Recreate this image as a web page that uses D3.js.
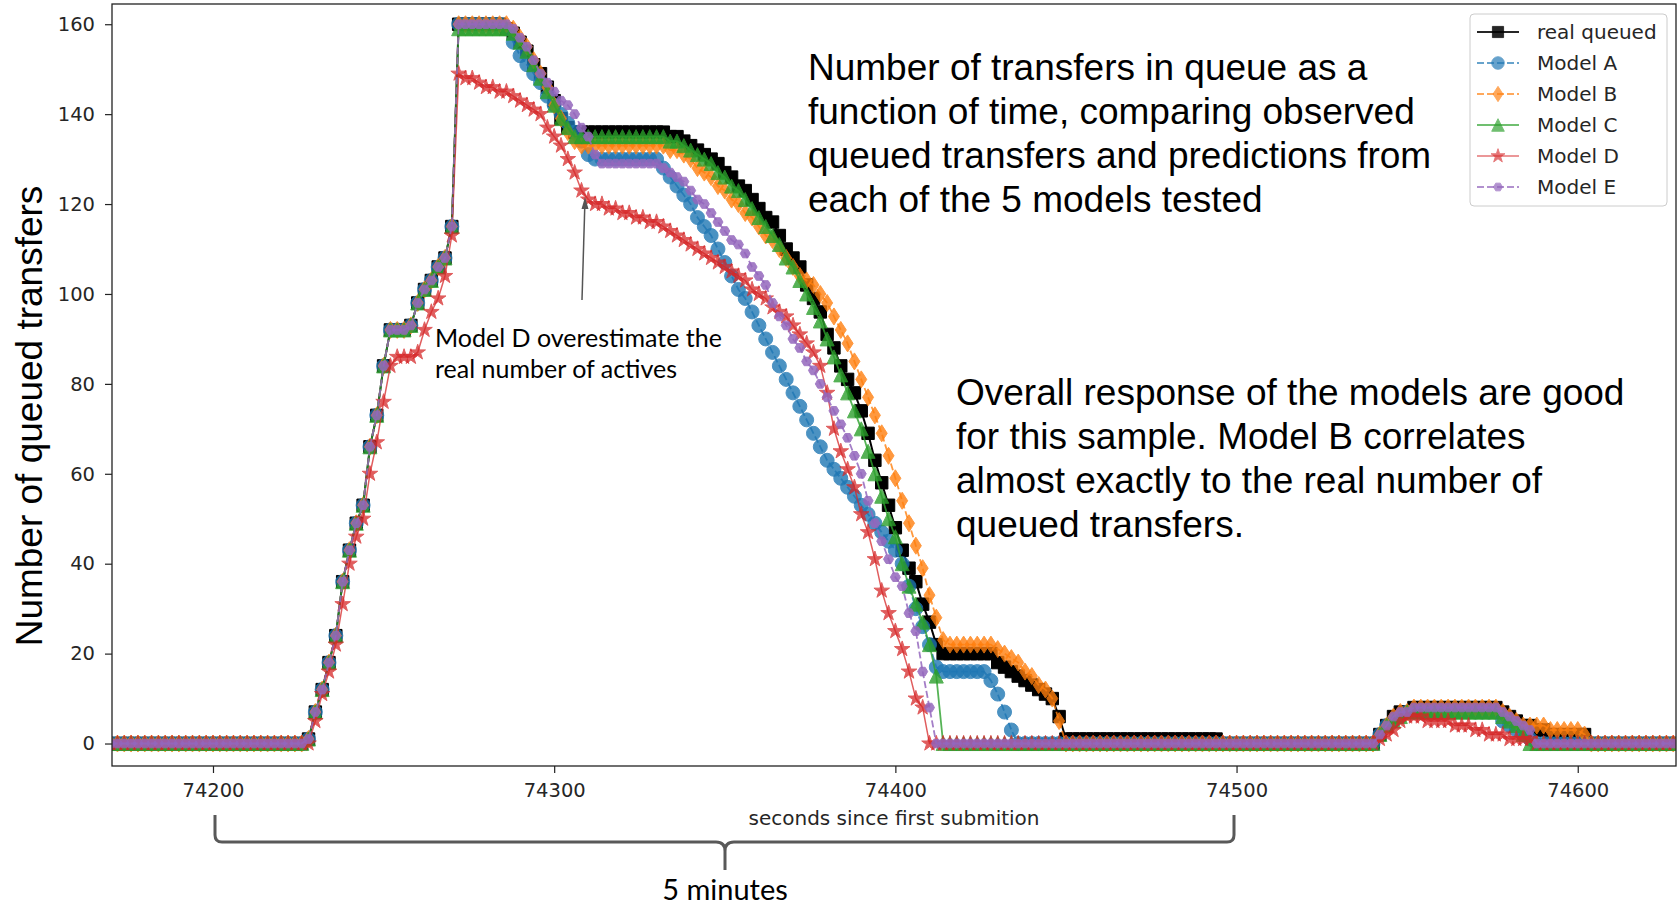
<!DOCTYPE html>
<html>
<head>
<meta charset="utf-8">
<script src="https://cdn.jsdelivr.net/npm/d3@7"></script>
<style>
body { margin: 0; background: #fff; }
svg { display: block; }
</style>
</head>
<body>
<div id="chart"></div>
<script>
var width = 1680;
var height = 905;
var plot = {left: 112, right: 1676, top: 4, bottom: 766};

// one sample every 2 seconds, 74170 .. 74628
var seconds = d3.range(74170, 74630, 2);
var xTicks = [74200, 74300, 74400, 74500, 74600];
var yTicks = [0, 20, 40, 60, 80, 100, 120, 140, 160];
var seriesNames = ["real queued", "Model A", "Model B", "Model C", "Model D", "Model E"];

var realQueued = [
	0,0,0,0,0,0,0,0,0,0,
	0,0,0,0,0,0,0,0,0,0,
	0,0,0,0,0,0,0,0,0,1,
	7,12,18,24,36,43,49,53,66,73,
	84,92,92,92,93,98,101,103,106,108,
	115,160,160,160,160,160,160,160,159,158,
	156,154,151,149,146,143,139,137,136,136,
	136,136,136,136,136,136,136,136,136,136,
	136,136,135,135,134,133,132,131,130,129,
	127,126,124,123,121,119,117,116,113,110,
	108,106,102,99,96,91,88,84,81,78,
	74,69,63,58,53,48,43,39,36,31,
	27,22,20,20,20,20,20,20,20,20,
	18,17,16,15,14,13,12,11,10,6,
	1,1,1,1,1,1,1,1,1,1,
	1,1,1,1,1,1,1,1,1,1,
	1,1,1,0,0,0,0,0,0,0,
	0,0,0,0,0,0,0,0,0,0,
	0,0,0,0,0,0,2,4,6,7,
	7,8,8,8,8,8,8,8,8,8,
	8,8,8,8,7,6,5,4,4,3,
	3,2,2,2,2,2,2,0,0,0,
	0,0,0,0,0,0,0,0,0,0];

var modelA = [
	0,0,0,0,0,0,0,0,0,0,
	0,0,0,0,0,0,0,0,0,0,
	0,0,0,0,0,0,0,0,0,1,
	7,12,18,24,36,43,49,53,66,73,
	84,92,92,92,93,98,101,103,106,108,
	115,160,160,160,160,160,160,160,159,156,
	153,151,149,147,144,142,140,138,136,134,
	131,130,130,130,130,130,130,130,130,130,
	130,128,126,124,122,120,117,115,113,110,
	107,104,101,99,96,93,90,87,84,81,
	78,75,72,69,66,63,61,59,57,55,
	53,51,49,47,45,43,40,35,30,26,
	22,17,16,16,16,16,16,16,16,14,
	11,7,3,0,0,0,0,0,0,0,
	0,0,0,0,0,0,0,0,0,0,
	0,0,0,0,0,0,0,0,0,0,
	0,0,0,0,0,0,0,0,0,0,
	0,0,0,0,0,0,0,0,0,0,
	0,0,0,0,0,0,2,4,5,6,
	7,7,7,7,7,7,7,7,7,7,
	7,7,7,7,5,4,3,2,1,0,
	0,0,0,0,0,0,0,0,0,0,
	0,0,0,0,0,0,0,0,0,0];

var modelB = [
	0,0,0,0,0,0,0,0,0,0,
	0,0,0,0,0,0,0,0,0,0,
	0,0,0,0,0,0,0,0,0,1,
	7,12,18,24,36,43,49,53,66,73,
	84,92,92,92,93,98,101,103,106,108,
	115,160,160,160,160,160,160,160,160,159,
	157,155,152,149,146,142,139,136,134,133,
	133,133,133,133,133,133,133,133,133,133,
	133,133,132,132,131,130,128,127,126,124,
	123,121,120,118,117,115,113,112,110,108,
	106,104,103,102,100,98,95,92,89,85,
	81,77,73,69,64,59,54,49,44,39,
	33,28,23,22,22,22,22,22,22,22,
	21,20,19,18,16,15,13,12,10,5,
	0,0,0,0,0,0,0,0,0,0,
	0,0,0,0,0,0,0,0,0,0,
	0,0,0,0,0,0,0,0,0,0,
	0,0,0,0,0,0,0,0,0,0,
	0,0,0,0,0,0,2,4,6,7,
	7,8,8,8,8,8,8,8,8,8,
	8,8,8,8,7,6,5,4,4,4,
	4,3,3,3,3,3,2,0,0,0,
	0,0,0,0,0,0,0,0,0,0];

var modelC = [
	0,0,0,0,0,0,0,0,0,0,
	0,0,0,0,0,0,0,0,0,0,
	0,0,0,0,0,0,0,0,0,1,
	7,12,18,24,36,43,49,53,66,73,
	84,92,92,92,93,98,101,103,106,108,
	115,159,159,159,159,159,159,159,159,158,
	156,154,151,148,145,142,139,137,135,135,
	135,135,135,135,135,135,135,135,135,135,
	135,135,134,134,133,132,131,130,129,127,
	126,124,123,121,119,117,115,113,111,108,
	106,103,100,97,94,90,86,82,78,74,
	70,65,60,55,50,46,40,35,31,27,
	22,15,0,0,0,0,0,0,0,0,
	0,0,0,0,0,0,0,0,0,0,
	0,0,0,0,0,0,0,0,0,0,
	0,0,0,0,0,0,0,0,0,0,
	0,0,0,0,0,0,0,0,0,0,
	0,0,0,0,0,0,0,0,0,0,
	0,0,0,0,0,0,2,4,5,6,
	7,7,7,7,7,7,7,7,7,7,
	7,7,7,7,6,5,4,2,0,0,
	0,0,0,0,0,0,0,0,0,0,
	0,0,0,0,0,0,0,0,0,0];

var modelD = [
	0,0,0,0,0,0,0,0,0,0,
	0,0,0,0,0,0,0,0,0,0,
	0,0,0,0,0,0,0,0,0,0,
	5,11,16,22,31,40,46,50,60,67,
	76,84,86,86,86,87,92,96,99,104,
	113,149,148,148,147,146,146,145,145,144,
	143,142,141,140,137,135,133,130,127,123,
	121,120,120,119,119,118,118,117,117,116,
	116,115,114,113,112,111,110,109,108,107,
	106,105,104,103,101,100,99,97,96,95,
	93,91,89,87,84,78,70,65,61,57,
	51,47,41,34,29,25,21,16,10,8,
	0,0,0,0,0,0,0,0,0,0,
	0,0,0,0,0,0,0,0,0,0,
	0,0,0,0,0,0,0,0,0,0,
	0,0,0,0,0,0,0,0,0,0,
	0,0,0,0,0,0,0,0,0,0,
	0,0,0,0,0,0,0,0,0,0,
	0,0,0,0,0,0,1,2,3,5,
	6,6,6,5,5,5,5,4,4,4,
	3,3,2,2,2,1,1,1,1,0,
	0,0,0,0,0,0,0,0,0,0,
	0,0,0,0,0,0,0,0,0,0];

var modelE = [
	0,0,0,0,0,0,0,0,0,0,
	0,0,0,0,0,0,0,0,0,0,
	0,0,0,0,0,0,0,0,0,1,
	7,12,18,24,36,43,49,53,66,73,
	84,92,92,92,93,98,101,103,106,108,
	115,160,160,160,160,160,160,160,160,159,
	157,155,152,149,147,145,143,142,140,137,
	135,131,129,129,129,129,129,129,129,129,
	129,128,127,126,125,123,121,120,118,116,
	114,112,111,109,106,104,102,98,95,93,
	90,88,85,83,80,77,74,71,68,64,
	60,54,49,45,41,37,35,29,25,16,
	8,0,0,0,0,0,0,0,0,0,
	0,0,0,0,0,0,0,0,0,0,
	0,0,0,0,0,0,0,0,0,0,
	0,0,0,0,0,0,0,0,0,0,
	0,0,0,0,0,0,0,0,0,0,
	0,0,0,0,0,0,0,0,0,0,
	0,0,0,0,0,0,2,4,6,7,
	7,8,8,8,8,8,8,8,8,8,
	8,8,8,8,7,6,5,4,3,0,
	0,0,0,0,0,0,0,0,0,0,
	0,0,0,0,0,0,0,0,0,0];

// marker shapes, roughly matplotlib's s, o, d, ^, *, h
var square = "M-6.2,-6.2H6.2V6.2H-6.2Z";
var thinDiamond = "M0,-8.5L5.5,0L0,8.5L-5.5,0Z";
var triangle = "M0,-7L7,7L-7,7Z";
var hexagon = "M5,0L2.5,4.3L-2.5,4.3L-5,0L-2.5,-4.3L2.5,-4.3Z";

var styles = [
	{color: "#000000", dash: null, alpha: 1, lw: 2, marker: square},
	{color: "#1f77b4", dash: "7,3", alpha: 0.8, lw: 1.8, marker: d3.symbol(d3.symbolCircle, 154)()},
	{color: "#ff7f0e", dash: "7,3", alpha: 0.8, lw: 1.8, marker: thinDiamond},
	{color: "#2ca02c", dash: null, alpha: 0.8, lw: 1.8, marker: triangle},
	{color: "#d62728", dash: null, alpha: 0.75, lw: 1.5, marker: d3.symbol(d3.symbolStar, 75)()},
	{color: "#9467bd", dash: "7,3", alpha: 0.85, lw: 1.8, marker: hexagon}
];
var allSeries = [realQueued, modelA, modelB, modelC, modelD, modelE];

var x = d3.scaleLinear().domain([74170.4, 74628.8]).range([plot.left, plot.right]);
var y = d3.scaleLinear().domain([-5, 164.5]).range([plot.bottom, plot.top]);

var svg = d3.select("#chart")
	.append("svg")
		.attr("width", width)
		.attr("height", height);

svg.append("defs").append("clipPath")
		.attr("id", "plotclip")
	.append("rect")
		.attr("x", plot.left)
		.attr("y", plot.top)
		.attr("width", plot.right - plot.left)
		.attr("height", plot.bottom - plot.top);

var line = d3.line()
	.x(function(d) { return x(d.t); })
	.y(function(d) { return y(d.v); });

var marks = svg.append("g").attr("clip-path", "url(#plotclip)");

allSeries.forEach(function(values, k) {
	var st = styles[k];
	var pts = values.map(function(v, i) { return {t: seconds[i], v: v}; });
	var g = marks.append("g");

	g.append("path")
		.datum(pts)
		.attr("d", line)
		.attr("fill", "none")
		.attr("stroke", st.color)
		.attr("stroke-width", st.lw)
		.attr("stroke-opacity", st.alpha)
		.attr("stroke-dasharray", st.dash);

	g.selectAll("path.mk")
		.data(pts)
		.enter()
			.append("path")
				.attr("class", "mk")
				.attr("d", st.marker)
				.attr("transform", function(d) { return "translate(" + x(d.t) + "," + y(d.v) + ")"; })
				.attr("fill", st.color)
				.attr("stroke", st.color)
				.attr("stroke-width", 1)
				.attr("opacity", st.alpha);
});

// frame
svg.append("rect")
	.attr("x", plot.left)
	.attr("y", plot.top)
	.attr("width", plot.right - plot.left)
	.attr("height", plot.bottom - plot.top)
	.attr("fill", "none")
	.attr("stroke", "#222")
	.attr("stroke-width", 1.3);

var xAxis = svg.append("g")
	.attr("transform", "translate(0," + plot.bottom + ")")
	.call(d3.axisBottom(x).tickValues(xTicks).tickSize(7).tickPadding(10).tickFormat(d3.format("d")));

var yAxis = svg.append("g")
	.attr("transform", "translate(" + plot.left + ",0)")
	.call(d3.axisLeft(y).tickValues(yTicks).tickSize(7).tickPadding(10));

[xAxis, yAxis].forEach(function(a) {
	a.select(".domain").remove();
	a.selectAll("line").attr("stroke", "#222").attr("stroke-width", 1.2);
	a.selectAll("text")
		.attr("fill", "#262626")
		.style("font-family", "DejaVu Sans")
		.style("font-size", "19.5px");
});

svg.append("text")
	.attr("x", (plot.left + plot.right) / 2)
	.attr("y", 825)
	.attr("text-anchor", "middle")
	.attr("fill", "#262626")
	.style("font-family", "DejaVu Sans")
	.style("font-size", "20px")
	.text("seconds since first submition");

svg.append("text")
	.attr("transform", "translate(42,416) rotate(-90)")
	.attr("text-anchor", "middle")
	.attr("fill", "#000")
	.style("font-family", "Liberation Sans")
	.style("font-size", "37px")
	.text("Number of queued transfers");

// legend
var legend = svg.append("g");
legend.append("rect")
	.attr("x", 1470).attr("y", 14)
	.attr("width", 197).attr("height", 192)
	.attr("rx", 4)
	.attr("fill", "#fff").attr("fill-opacity", 0.8)
	.attr("stroke", "#cccccc");

seriesNames.forEach(function(name, k) {
	var st = styles[k];
	var cy = 32 + k * 31;
	legend.append("line")
		.attr("x1", 1477).attr("x2", 1519)
		.attr("y1", cy).attr("y2", cy)
		.attr("stroke", st.color)
		.attr("stroke-width", st.lw)
		.attr("stroke-opacity", st.alpha * 0.85)
		.attr("stroke-dasharray", st.dash);
	legend.append("path")
		.attr("d", st.marker)
		.attr("transform", "translate(1498," + cy + ") scale(0.9)")
		.attr("fill", st.color)
		.attr("stroke", st.color)
		.attr("opacity", st.alpha * 0.85);
	legend.append("text")
		.attr("x", 1537)
		.attr("y", cy + 7)
		.attr("fill", "#262626")
		.style("font-family", "DejaVu Sans")
		.style("font-size", "20px")
		.text(name);
});

// slide annotations
var titleLines = ["Number of transfers in queue as a", "function of time, comparing observed",
	"queued transfers and predictions from", "each of the 5 models tested"];
var noteLines = ["Overall response of the models are good", "for this sample. Model B correlates",
	"almost exactly to the real number of", "queued transfers."];

svg.selectAll("text.title")
	.data(titleLines)
	.enter()
		.append("text")
			.attr("class", "title")
			.attr("x", 808)
			.attr("y", function(d, i) { return 80 + i * 44; })
			.style("font-family", "Liberation Sans")
			.style("font-size", "37px")
			.text(function(d) { return d; });

svg.selectAll("text.note")
	.data(noteLines)
	.enter()
		.append("text")
			.attr("class", "note")
			.attr("x", 956)
			.attr("y", function(d, i) { return 405 + i * 44; })
			.style("font-family", "Liberation Sans")
			.style("font-size", "37px")
			.text(function(d) { return d; });

svg.selectAll("text.arrownote")
	.data(["Model D overestimate the", "real number of actives"])
	.enter()
		.append("text")
			.attr("class", "arrownote")
			.attr("x", 435)
			.attr("y", function(d, i) { return 347 + i * 31; })
			.style("font-family", "Lato")
			.style("font-size", "25px")
			.text(function(d) { return d; });

// arrow to model D
svg.append("line")
	.attr("x1", 582).attr("y1", 300)
	.attr("x2", 584.8).attr("y2", 206)
	.attr("stroke", "#555").attr("stroke-width", 1.5);
svg.append("path")
	.attr("d", "M585,197L588.5,209L581.5,209Z")
	.attr("fill", "#555");

// 5 minute brace
svg.append("path")
	.attr("d", "M215,815L215,835Q215,842 222,842L716,842Q725,842 725,851L725,870M725,851Q725,842 734,842L1227,842Q1234,842 1234,835L1234,815")
	.attr("fill", "none")
	.attr("stroke", "#595959")
	.attr("stroke-width", 3);

svg.append("text")
	.attr("x", 725)
	.attr("y", 900)
	.attr("text-anchor", "middle")
	.style("font-family", "Lato")
	.style("font-size", "29px")
	.text("5 minutes");
</script>
</body>
</html>
